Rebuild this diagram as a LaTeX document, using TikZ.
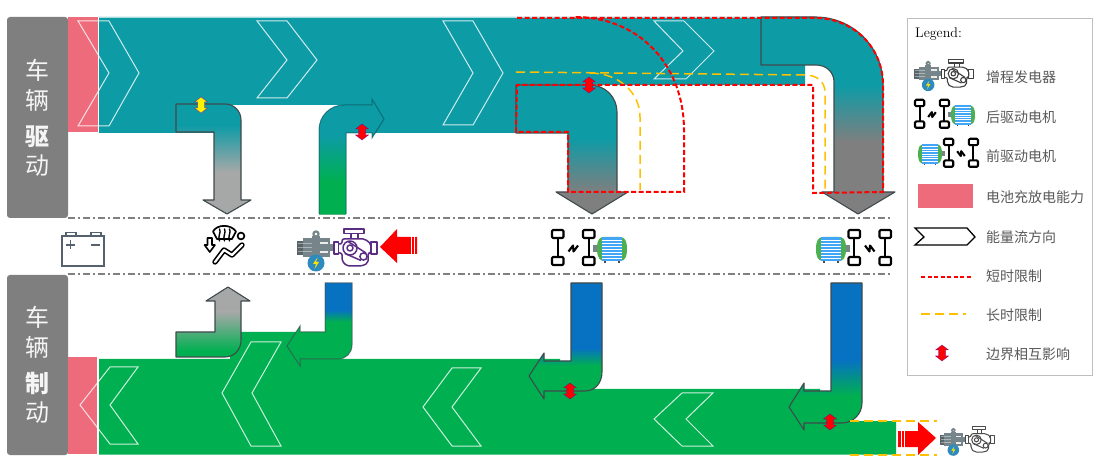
\documentclass[tikz,border=0pt]{standalone}
\usepackage{fontspec}
\newfontfamily\cjk{Noto Sans CJK SC}
\definecolor{bandteal}{HTML}{0D9BA6}
\definecolor{bandgreen}{HTML}{00B050}
\definecolor{flowblue}{HTML}{0772C1}
\definecolor{pinkcap}{HTML}{EE6B7B}
\definecolor{sidegray}{HTML}{7F7F7F}
\definecolor{lightgrayb}{HTML}{A6A8A8}
\definecolor{goldline}{HTML}{FFC000}
\definecolor{edgegray}{HTML}{404A4C}
\definecolor{labelgray}{HTML}{595959}
\definecolor{enginepurple}{HTML}{5B2C83}
\definecolor{motorgray}{HTML}{76858A}
\definecolor{boltblue}{HTML}{2E8BC0}
\definecolor{batslate}{HTML}{55626E}
\definecolor{motorgreen}{HTML}{4CAF50}
\definecolor{motorblue}{HTML}{42A5F5}
\tikzset{
  sidebox/.style={fill=sidegray,rounded corners=3pt},
  sidelabel/.style={text=white!92!gray,font=\cjk\fontsize{24}{24}\selectfont,inner sep=0pt},
  sidelabelb/.style={sidelabel,font=\cjk\bfseries\fontsize{24}{24}\selectfont},
  chev/.style={draw=white,draw opacity=.8,line width=1pt,line join=miter},
  flowedge/.style={draw=edgegray,line width=1.1pt,line join=round},
  flowedgesoft/.style={draw=edgegray,draw opacity=.65,line width=1pt,line join=miter},
  shortlim/.style={draw=red,line width=2pt,dash pattern=on 5pt off 2.5pt},
  longlim/.style={draw=goldline,line width=1.5pt,dash pattern=on 9pt off 5pt},
  sep/.style={draw=gray,line width=1.2pt,dash pattern=on 7pt off 3pt on 2pt off 3pt},
  legtext/.style={text=labelgray,font=\cjk\fontsize{14}{14}\selectfont,anchor=west,inner sep=0pt},
  bigred/.style={fill=red},
}
% gradient: path, top colour, y1, bottom colour, y2
\newcommand\gradfill[5]{%
  \begin{scope}
    \clip #1;
    \fill[#2] (0,0) rectangle (1101,#3+.4);
    \fill[#4] (0,#5-.4) rectangle (1101,462);
    \shade[top color=#2,bottom color=#4] (0,#3) rectangle (1101,#5);
  \end{scope}}
\newcommand\updown[3]{%
  \draw[fill=#3,draw=blue!60!red,draw opacity=.6,line width=.5pt,shift={(#1,#2)}]
    (0,-8) -- (6.5,-3) -- (3.5,-3) -- (3.5,3) -- (6.5,3) -- (0,8) -- (-6.5,3) -- (-3.5,3) -- (-3.5,-3) -- (-6.5,-3) -- cycle;}
% generator: x y scale enginecolour
\newcommand\genicon[4]{%
  \begin{scope}[shift={(#1,#2)},scale=#3,line join=round]
    \draw[motorgray,line width=#3*2.2pt] (24,10) circle (2.6);
    \fill[motorgray] (20,12) rectangle (28,16);
    \fill[motorgray!75!black] (5,17) rectangle (11,31);
    \fill[motorgray] (11,14.5) rectangle (38,33);
    \foreach \yy in {19,23,27}{\draw[white,opacity=.4,line width=#3*.7pt] (6,\yy) -- (20,\yy);}
    \fill[white!85!gray] (28,18) rectangle (36,20.5);
    \fill[white!85!gray] (28,27) rectangle (36,29.5);
    \fill[motorgray] (38,20) rectangle (42,27);
    \fill[boltblue] (24,39) circle (8.5);
    \fill[yellow!85!orange] (25.5,33.5) -- (21,40) -- (24,40) -- (22.5,45) -- (27,38) -- (24,38) -- cycle;
    \begin{scope}[draw=#4,line width=#3*1.5pt]
      \draw (42,18) rectangle (46.5,30);
      \draw (79,18) rectangle (85,30);
      \draw (52,5) rectangle (72,9.5);
      \draw (59,9.5) -- (59,15) (66,9.5) -- (66,15);
      \draw[rounded corners=2pt] (46.5,20) -- (50,20) -- (50,15) -- (73,15) -- (79,20) -- (79,29) -- (76,29) -- (76,39) -- (70,42) -- (55,42) -- (50,37) -- (50,29) -- (46.5,29);
      \draw (58,24) circle (7);
      \draw (58,24) circle (3);
      \draw (56,17.5) -- (74,29) (53,29.5) -- (69,36.5);
      \draw (71.5,32.5) circle (3.6);
    \end{scope}
  \end{scope}}
% axle + motor; x y xscale yscale
\newcommand\driveicon[4]{%
  \begin{scope}[shift={(#1,#2)},xscale=#3,yscale=#4,line join=round]
    \fill[motorgray] (48,21) rectangle (54,28);
    \fill[motorgreen] (52,24.5) .. controls (52,15) and (55,13) .. (59,13) -- (75,13) .. controls (80,13) and (82,17) .. (82,25) .. controls (82,33) and (80,37) .. (75,37) -- (59,37) .. controls (55,37) and (52,34) .. (52,24.5) -- cycle;
    \fill[motorblue] (57,13) rectangle (77,37);
    \foreach \yy in {16,19,22,25,28,31,34}{\draw[white,line width=.6pt] (57,\yy) -- (77,\yy);}
    \fill[black!70] (59,37) rectangle (61,39);
    \fill[black!70] (73,37) rectangle (75,39);
    \begin{scope}[draw=black,line width=2.1pt]
      \draw[rounded corners=1.2pt,fill=white] (7,6) rectangle (18.5,14);
      \draw[rounded corners=1.2pt,fill=white] (7,33) rectangle (18.5,41);
      \draw[rounded corners=1.2pt,fill=white] (38,6) rectangle (49.5,14);
      \draw[rounded corners=1.2pt,fill=white] (38,33) rectangle (49.5,41);
      \draw (12.7,14) -- (12.7,33);
      \draw (43.7,14) -- (43.7,33);
      \draw (23.5,27.5) -- (28,21.5) -- (28.5,27.5) -- (33,21.5);
    \end{scope}
  \end{scope}}
\begin{document}
\begin{tikzpicture}[x=1pt,y=-1pt]
\useasboundingbox (0,0) rectangle (1101,462);
\fill[white] (0,0) rectangle (1101,462);

% paths of the flow arrows
\def\arrowA{(176,104) -- (225,104) .. controls (234,104) and (241,111) .. (241,120) -- (241,200) -- (251,200) -- (227,214) -- (203,200) -- (214,200) -- (214,132) -- (176,132) -- cycle}
\def\arrowB{(319,214) -- (319,130) .. controls (319,116) and (330,105) .. (344,105) -- (372,105) -- (372,99) -- (384,119) -- (372,138) -- (372,133) -- (346,133) -- (346,214) -- cycle}
\def\arrowC{(516,85) -- (590,85) .. controls (605,85) and (617,97) .. (617,112) -- (617,192) -- (628,192) -- (592,214) -- (556,192) -- (568,192) -- (568,133) -- (516,133) -- cycle}
\def\arrowD{(761,17) -- (815,17) .. controls (853,17) and (883,47) .. (883,85) -- (883,192) -- (895,192) -- (858,214) -- (822,192) -- (834,192) -- (834,82) .. controls (834,72) and (826,65) .. (816,65) -- (761,65) -- cycle}
\def\arrowE{(176,332) -- (215,332) -- (215,301) -- (206,301) -- (228,287) -- (250,301) -- (241,301) -- (241,340) .. controls (241,350) and (234,357) .. (225,357) -- (176,357) -- cycle}
\def\arrowF{(325,283) -- (352,283) -- (352,345) .. controls (352,353) and (346,359) .. (338,359) -- (300,359) -- (300,366) -- (287,346) -- (300,326) -- (300,332) -- (325,332) -- cycle}
\def\arrowG{(571,283) -- (602,283) -- (602,372) .. controls (602,383) and (595,391) .. (585,391) -- (544,391) -- (544,399) -- (529,376) -- (544,353) -- (544,361) -- (571,361) -- cycle}
\def\arrowH{(831,283) -- (862,283) -- (862,403) .. controls (862,414) and (853,423) .. (842,423) -- (804,423) -- (804,430) -- (789,407) -- (804,383) -- (804,391) -- (831,391) -- cycle}

% side boxes
\path[sidebox] (7,17) rectangle (68,218);
\path[sidebox] (7,275) rectangle (68,455);
\node[sidelabel] (l1) at (37,70) {车};
\node[sidelabel] (l2) at (37,100) {辆};
\node[sidelabelb] (l3) at (37,137) {驱};
\node[sidelabel] (l4) at (37,166) {动};
\node[sidelabel] (l5) at (37,317) {车};
\node[sidelabel] (l6) at (37,347) {辆};
\node[sidelabelb] (l7) at (37,383) {制};
\node[sidelabel] (l8) at (37,413) {动};

% capacity blocks
\fill[pinkcap] (68,17) rectangle (98,132.5);
\fill[pinkcap] (68,357) rectangle (97,454);

% main bands
\fill[bandteal] (98,17) -- (815,17) -- (815,65) -- (805,65) -- (805,85) -- (517,85) -- (517,133) -- (346,133) -- (346,105) -- (214,105) -- (214,133) -- (98,133) -- cycle;
\draw[white!65!bandteal,line width=.6pt] (98,17) -- (815,17);
\draw[white,line width=.7pt] (98,17) -- (98,133);
\fill[bandgreen] (99,359) -- (230,359) -- (230,332) -- (320,332) -- (320,359) -- (560,359) -- (560,389) -- (820,389) -- (820,421) -- (896,421) -- (896,454.5) -- (99,454.5) -- cycle;

% upper flow arrows
\gradfill{\arrowA}{bandteal}{125}{lightgrayb}{172}
\draw[flowedge] \arrowA;
\gradfill{\arrowB}{bandteal}{135}{bandgreen}{182}
\draw[flowedgesoft,draw=bandteal!55!black] (319,214) -- (319,130) .. controls (319,116) and (330,105) .. (344,105) -- (372,105) -- (372,99) -- (384,119) -- (372,138) -- (372,133) -- (346,133) -- (346,214);
\draw[flowedgesoft,draw=bandgreen!80!black,line width=.5pt] (319,214) -- (346,214);
\gradfill{\arrowC}{bandteal}{138}{sidegray}{192}
\draw[flowedge] \arrowC;
\gradfill{\arrowD}{bandteal}{85}{sidegray}{142}
\draw[flowedge] \arrowD;

% lower flow arrows
\gradfill{\arrowE}{lightgrayb}{312}{bandgreen}{351}
\draw[flowedge] \arrowE;
\gradfill{\arrowF}{flowblue}{310}{bandgreen}{322}
\draw[flowedgesoft] \arrowF;
\gradfill{\arrowG}{flowblue}{348}{bandgreen}{366}
\draw[flowedge] \arrowG;
\gradfill{\arrowH}{flowblue}{360}{bandgreen}{396}
\draw[flowedge] \arrowH;

% chevrons
\draw[chev] (78,21) -- (109,21) -- (139,73) -- (109,126) -- (78,126) -- (109,73) -- cycle;
\draw[chev] (257,21) -- (287,21) -- (317,60) -- (287,98) -- (257,98) -- (287,60) -- cycle;
\draw[chev] (443,21) -- (473,21) -- (503,73) -- (473,125) -- (443,125) -- (473,73) -- cycle;
\draw[chev] (654,21) -- (684,21) -- (714,51) -- (686,79) -- (654,79) -- (683,51) -- cycle;
\draw[chev] (138,367) -- (110,367) -- (80,405) -- (110,444) -- (138,444) -- (110,405) -- cycle;
\draw[chev] (281,342) -- (251,342) -- (222,393) -- (251,446) -- (281,446) -- (252,393) -- cycle;
\draw[chev] (481,368) -- (452,368) -- (423,407) -- (452,446) -- (481,446) -- (452,407) -- cycle;
\draw[chev] (713,393) -- (682,393) -- (654,419) -- (682,446) -- (713,446) -- (686,419) -- cycle;

% long-time limits
\draw[longlim] (516,72) -- (805,75) .. controls (817,75) and (825,82) .. (825,92) -- (825,192);
\draw[longlim] (590,73) .. controls (618,73) and (640,92) .. (640,117) -- (640,190);
\draw[longlim] (850,421) -- (937,421);
\draw[longlim] (850,455) -- (937,455);

% short-time limits
\draw[shortlim] (517,18) -- (815,18) .. controls (853,18) and (883,47) .. (883,85) -- (883,192) -- (813,193) -- (813,85) -- (517,85) -- (516,132) -- (568,132) -- (568,192) -- (684,192) -- (684,130) .. controls (684,66) and (640,17) .. (575,17);

% separators
\draw[sep] (68,218) -- (892,218);
\draw[sep] (68,274) -- (892,274);

% boundary markers
\updown{201}{105}{yellow}
\updown{362}{132}{red}
\updown{589}{85}{red}
\updown{570}{391}{red}
\updown{830}{422}{red}

% battery
\begin{scope}[shift={(0,0)},draw=batslate,line width=1.2pt]
  \draw[fill=white] (62,236) rectangle (104,266);
  \draw (66,236) -- (66,232.5) -- (76,232.5) -- (76,236);
  \draw (91,236) -- (91,232.5) -- (101,232.5) -- (101,236);
  \draw (66,245) -- (75,245) (70.5,240.5) -- (70.5,249.5);
  \draw (91,245) -- (100,245);
\end{scope}

% seat and demist icon
\begin{scope}[shift={(200,222)},line join=round,line cap=round]
  \draw[black,line width=1.7pt] (13,9.5) .. controls (17,2) and (31,2) .. (36,9.5) -- (32,17) -- (17,17) -- cycle;
  \foreach \xx in {19.5,24.5,29.5}{\draw[black,line width=1.4pt] (\xx,7) .. controls (\xx+2,11) and (\xx-2,13) .. (\xx,19);}
  \draw[black,line width=1.7pt] (41,14) circle (3.4);
  \draw[black,line width=1.6pt] (7.5,16) -- (12,16) -- (12,23) -- (15,23) -- (9.8,30) -- (4.5,23) -- (7.5,23) -- cycle;
  \draw[black,line width=5.4pt] (15,40) -- (24,28) -- (32,33) -- (42,23);
  \draw[white,line width=2.2pt] (15,40) -- (24,28) -- (32,33) -- (42,23);
\end{scope}

% power train icons
\genicon{292}{224}{1}{enginepurple}
\driveicon{545}{224}{1}{1}
\driveicon{898}{224}{-1}{1}
\genicon{937}{423.5}{.68}{black!70}

% red arrows
\path[bigred] (380,247) -- (397,229) -- (397,237) -- (417,237) -- (417,254) -- (397,254) -- (397,263) -- cycle;
\draw[white,line width=.7pt] (411.5,236) -- (411.5,255) (414.5,236) -- (414.5,255);
\path[bigred] (936,438) -- (918,422) -- (918,431) -- (898,431) -- (898,447) -- (918,447) -- (918,455) -- cycle;
\draw[white,line width=.7pt] (901,430) -- (901,448) (904,430) -- (904,448);

% legend
\draw[draw=black!25,line width=1pt,fill=white] (907,19) rectangle (1092,376);
\node[anchor=west,inner sep=0pt,font=\fontsize{14}{14}\selectfont,text=black] (legtitle) at (915,34) {Legend:};
\genicon{910.4}{56}{.74}{black!75}
\driveicon{909.4}{95}{.8}{.8}
\driveicon{983.6}{134}{-.8}{.8}
\fill[pinkcap] (918,184) rectangle (973,208);
\draw[black,line width=1.3pt,fill=white] (915,228) -- (967,228) -- (975,237) -- (967,245) -- (915,245) -- (924,237) -- cycle;
\draw[shortlim,dash pattern=on 4pt off 2.5pt] (921,277) -- (971,277);
\draw[longlim,dash pattern=on 9pt off 5pt] (921,314) -- (966,314);
\updown{942}{353}{red}
\node[legtext] (t1) at (986,77) {增程发电器};
\node[legtext] (t2) at (986,117) {后驱动电机};
\node[legtext] (t3) at (986,156) {前驱动电机};
\node[legtext] (t4) at (986,197) {电池充放电能力};
\node[legtext] (t5) at (986,237) {能量流方向};
\node[legtext] (t6) at (986,276) {短时限制};
\node[legtext] (t7) at (986,315) {长时限制};
\node[legtext] (t8) at (986,354) {边界相互影响};
\end{tikzpicture}
\end{document}
